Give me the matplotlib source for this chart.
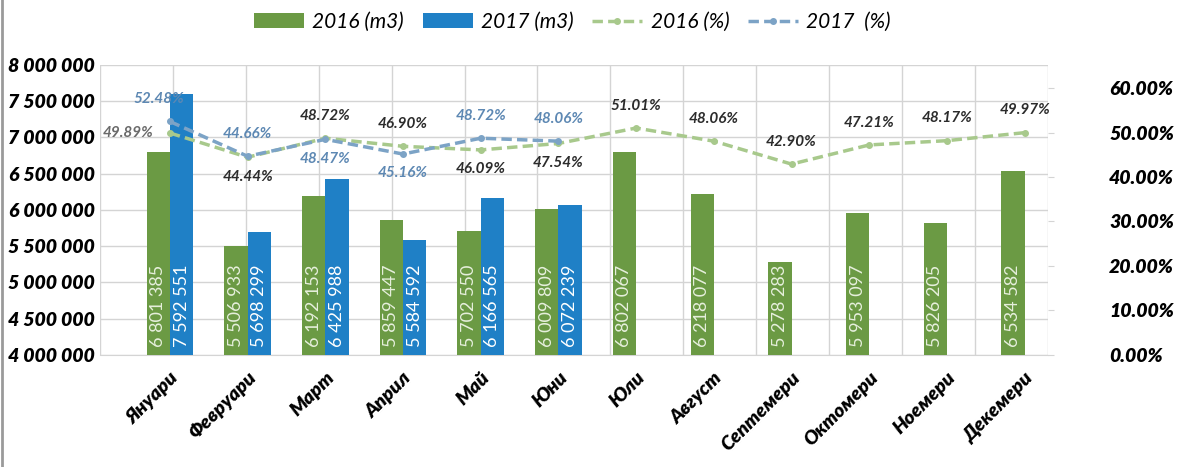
import matplotlib
matplotlib.use("Agg")
import matplotlib.pyplot as plt
import numpy as np
from matplotlib.ticker import FuncFormatter, PercentFormatter

# ---------------------------------------------------------------- данни
MONTHS = ["Януари", "Февруари", "Март", "Април", "Май", "Юни",
          "Юли", "Август", "Септемери", "Октомери", "Ноемери", "Декемери"]
VOL_2016 = [6801385, 5506933, 6192153, 5859447, 5702550, 6009809,
            6802067, 6218077, 5278283, 5953097, 5826205, 6534582]
VOL_2017 = [7592551, 5698299, 6425988, 5584592, 6166565, 6072239]
PCT_2016 = [49.89, 44.44, 48.72, 46.90, 46.09, 47.54,
            51.01, 48.06, 42.90, 47.21, 48.17, 49.97]
PCT_2017 = [52.48, 44.66, 48.47, 45.16, 48.72, 48.06]
LEGEND_LABELS = ["2016 (m3)", "2017 (m3)", "2016 (%)", "2017  (%)"]

# ---------------------------------------------------------------- стил
GREEN = "#6b9a44"
BLUE = "#1f80c6"
LINE_GREEN = "#a8c98c"
LINE_BLUE = "#7ca3c6"
LABEL_BLUE = "#5d88b3"
GRID = "#d4d4d4"
FONT = ["Lato", "DejaVu Sans"]

plt.rcParams.update({
    "font.family": FONT,
    "axes.edgecolor": GRID,
})

fig = plt.figure(figsize=(12, 4.67), dpi=100)
ax = fig.add_axes([0.0833, 0.24, 0.79, 0.621])
ax2 = ax.twinx()

x = np.arange(len(MONTHS))
x17 = np.arange(len(VOL_2017))
w = 0.3

b16 = ax.bar(x - w / 2, VOL_2016, width=w, color=GREEN, zorder=3)
b17 = ax.bar(x17 + w / 2, VOL_2017, width=w, color=BLUE, zorder=3)

# вертикални надписи в стълбовете
for xs, vals, col in ((x - w / 2, VOL_2016, "#e6efdc"), (x17 + w / 2, VOL_2017, "white")):
    for xi, v in zip(xs, vals):
        ax.text(xi, 4_110_000, f"{v:,}".replace(",", " "), rotation=90,
                ha="center", va="bottom", fontsize=13, fontweight="normal",
                color=col, zorder=4)

ax.set_ylim(4_000_000, 8_000_000)
ax.set_yticks(np.arange(4_000_000, 8_000_001, 500_000))
ax.yaxis.set_major_formatter(FuncFormatter(lambda v, _: f"{int(v):,}".replace(",", " ")))
ax.set_xlim(-0.9, 11.3)
ax.set_xticks(x)
ax.set_xticklabels(MONTHS, rotation=45, ha="right", rotation_mode="anchor",
                   fontsize=14, fontweight="heavy", fontstyle="italic")
ax.tick_params(axis="x", length=0, pad=10)
ax.tick_params(axis="y", length=0, pad=4)
for lab in ax.get_yticklabels():
    lab.set_fontsize(14)
    lab.set_fontweight("heavy")
    lab.set_fontstyle("italic")

ax.yaxis.grid(True, color=GRID, linewidth=1, zorder=0)
for gx in np.linspace(-0.9, 11.3, 14):
    ax.axvline(gx, color=GRID, linewidth=1, zorder=0)
ax.set_axisbelow(True)
for s in ("top", "right", "left"):
    ax.spines[s].set_visible(False)
    ax2.spines[s].set_visible(False)
ax2.spines["bottom"].set_visible(False)

# линии с проценти
l16, = ax2.plot(x, PCT_2016, color=LINE_GREEN, linestyle=(0, (3, 1.5)), linewidth=2.5,
                marker="o", markersize=4, zorder=5)
l17, = ax2.plot(x17, PCT_2017, color=LINE_BLUE, linestyle=(0, (3, 1.5)), linewidth=2.5,
                marker="o", markersize=4, zorder=5)
ax2.set_ylim(0, 65.2)
ax2.set_yticks(np.arange(0, 61, 10))
ax2.yaxis.set_major_formatter(PercentFormatter(decimals=2))
ax2.tick_params(axis="y", length=4, color=GRID, pad=40)
for lab in ax2.get_yticklabels():
    lab.set_fontsize(14)
    lab.set_fontweight("heavy")
    lab.set_fontstyle("italic")

for i, p in enumerate(PCT_2016):
    other = PCT_2017[i] if i < len(PCT_2017) else None
    if i == 0:
        ax2.annotate(f"{p:.2f}%", (i, p), xytext=(-30, 0), textcoords="offset points",
                     ha="center", va="center", fontsize=11, fontweight="bold",
                     fontstyle="italic", color="#6a6a6a", zorder=6)
        continue
    dy = -14 if (other is not None and other > p) else 16
    ax2.annotate(f"{p:.2f}%", (i, p), xytext=(0, dy), textcoords="offset points",
                 ha="center", va="center", fontsize=11, fontweight="bold",
                 fontstyle="italic", color="#2b2b2b", zorder=6)
for i, p in enumerate(PCT_2017):
    dy = 16 if p > PCT_2016[i] else -14
    ax2.annotate(f"{p:.2f}%", (i, p), xytext=(-8 if i == 0 else 0, dy),
                 textcoords="offset points", ha="center", va="center",
                 fontsize=11, fontweight="bold", fontstyle="italic",
                 color=LABEL_BLUE, zorder=6)

leg = fig.legend([b16, b17, l16, l17], LEGEND_LABELS, loc="center",
                 bbox_to_anchor=(0.477, 0.953), ncols=4, frameon=False,
                 prop={"style": "italic", "size": 15}, handlelength=2.4,
                 columnspacing=0.9, handletextpad=0.4)

# рамка от сканирането вляво
fig.add_artist(plt.Line2D([0.002, 0.002], [0, 1], color="#9a9a9a", linewidth=2,
                          transform=fig.transFigure))

fig.savefig("out.png", dpi=100)
